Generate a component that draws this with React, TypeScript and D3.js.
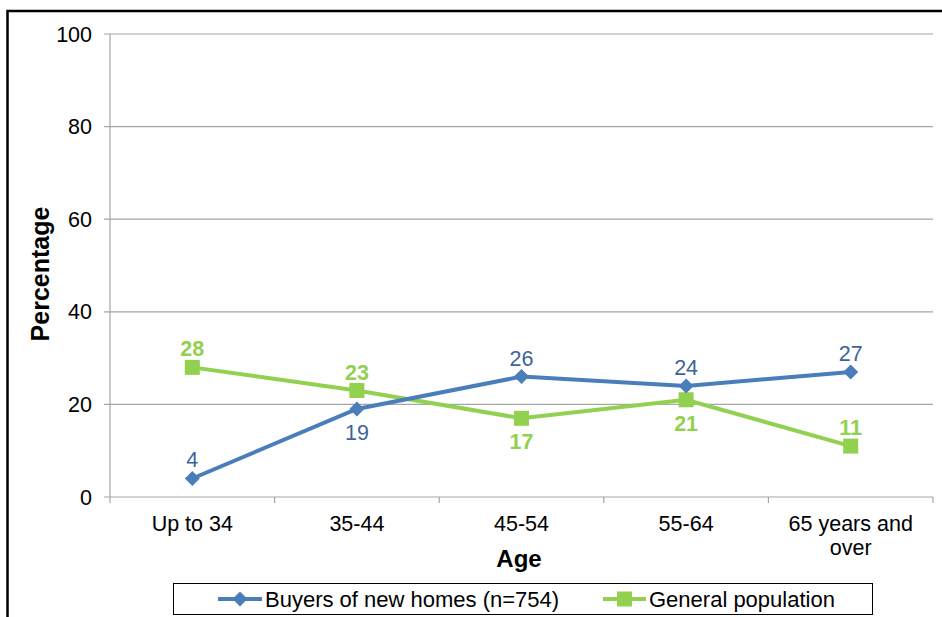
import React from "react";
import * as d3 from "d3";

const categories = ["Up to 34", "35-44", "45-54", "55-64", "65 years and over"];
const buyers = [4, 19, 26, 24, 27];
const general = [28, 23, 17, 21, 11];
const yTicks = [0, 20, 40, 60, 80, 100];
const buyersLabelPos = ["above", "below", "above", "above", "above"];
const generalLabelPos = ["above", "above", "below", "below", "above"];

const BLUE = "#4a7ebb";
const BLUE_TEXT = "#3d6499";
const GREEN = "#92d050";
const FONT = "Liberation Sans, Arial, sans-serif";
const FS = 21.5;

export default function App() {
  const W = 942, H = 617;
  const left = 110, right = 933, top = 34, bottom = 497;
  const x = d3.scaleBand<string>().domain(categories).range([left, right]);
  const y = d3.scaleLinear().domain([0, 100]).range([bottom, top]);
  const cx = (c: string) => (x(c) as number) + x.bandwidth() / 2;
  const line = d3.line<number>().x((_, i) => cx(categories[i])).y((d) => y(d));

  const diamond = (px: number, py: number, r = 7.5) =>
    `M${px},${py - r}L${px + r},${py}L${px},${py + r}L${px - r},${py}Z`;

  return (
    <div style={{ position: "absolute", left: 0, top: 0 }}>
      <svg width={W} height={H} style={{ display: "block", fontFamily: FONT }}>
        <rect x={0} y={0} width={W} height={H} fill="#fff" />
        <rect x={7.5} y={11} width={W + 20} height={H + 20} fill="none" stroke="#000" strokeWidth={2.5} />
        {yTicks.map((t) => (
          <g key={t}>
            <line x1={104} x2={right} y1={y(t)} y2={y(t)} stroke="#a6a6a6" strokeWidth={1.2} />
            <text x={92} y={y(t)} dy="0.35em" textAnchor="end" fontSize={FS} fill="#000">{t}</text>
          </g>
        ))}
        <line x1={left} x2={left} y1={top} y2={bottom + 6} stroke="#a6a6a6" strokeWidth={1.2} />
        {categories.map((c, i) => (
          <line key={"t" + i} x1={(x(c) as number) + x.bandwidth()} x2={(x(c) as number) + x.bandwidth()} y1={bottom} y2={bottom + 6} stroke="#a6a6a6" strokeWidth={1.2} />
        ))}
        {categories.map((c) => {
          const parts = c === "65 years and over" ? ["65 years and", "over"] : [c];
          return (
            <text key={c} x={cx(c)} y={531} textAnchor="middle" fontSize={FS} fill="#000">
              {parts.map((p, j) => (
                <tspan key={j} x={cx(c)} dy={j === 0 ? 0 : 24}>{p}</tspan>
              ))}
            </text>
          );
        })}
        <text x={519} y={567} textAnchor="middle" fontSize={24} fontWeight="bold">Age</text>
        <text transform={`translate(49,274) rotate(-90)`} textAnchor="middle" fontSize={25} fontWeight="bold">Percentage</text>
        <path d={line(general) || ""} fill="none" stroke={GREEN} strokeWidth={4} />
        <path d={line(buyers) || ""} fill="none" stroke={BLUE} strokeWidth={4} />
        {general.map((v, i) => (
          <rect key={"g" + i} x={cx(categories[i]) - 7.5} y={y(v) - 7.5} width={15} height={15} fill={GREEN} />
        ))}
        {buyers.map((v, i) => (
          <path key={"b" + i} d={diamond(cx(categories[i]), y(v))} fill={BLUE} />
        ))}
        {buyers.map((v, i) => (
          <text key={"bl" + i} x={cx(categories[i])} y={buyersLabelPos[i] === "above" ? y(v) - 11 : y(v) + 31} textAnchor="middle" fontSize={FS} fill={BLUE_TEXT}>{v}</text>
        ))}
        {general.map((v, i) => (
          <text key={"gl" + i} x={cx(categories[i])} y={generalLabelPos[i] === "above" ? y(v) - 11 : y(v) + 31} textAnchor="middle" fontSize={FS} fontWeight="bold" fill={GREEN}>{v}</text>
        ))}
        <rect x={173.5} y={583.5} width={699} height={31} fill="#fff" stroke="#000" strokeWidth={1} />
        <line x1={218} x2={262} y1={599} y2={599} stroke={BLUE} strokeWidth={4} />
        <path d={diamond(240, 599)} fill={BLUE} />
        <text x={265} y={599} dy="0.35em" fontSize={22}>Buyers of new homes (n=754)</text>
        <line x1={603} x2={646} y1={599} y2={599} stroke={GREEN} strokeWidth={4} />
        <rect x={617} y={591.5} width={15} height={15} fill={GREEN} />
        <text x={649} y={599} dy="0.35em" fontSize={22}>General population</text>
      </svg>
    </div>
  );
}
